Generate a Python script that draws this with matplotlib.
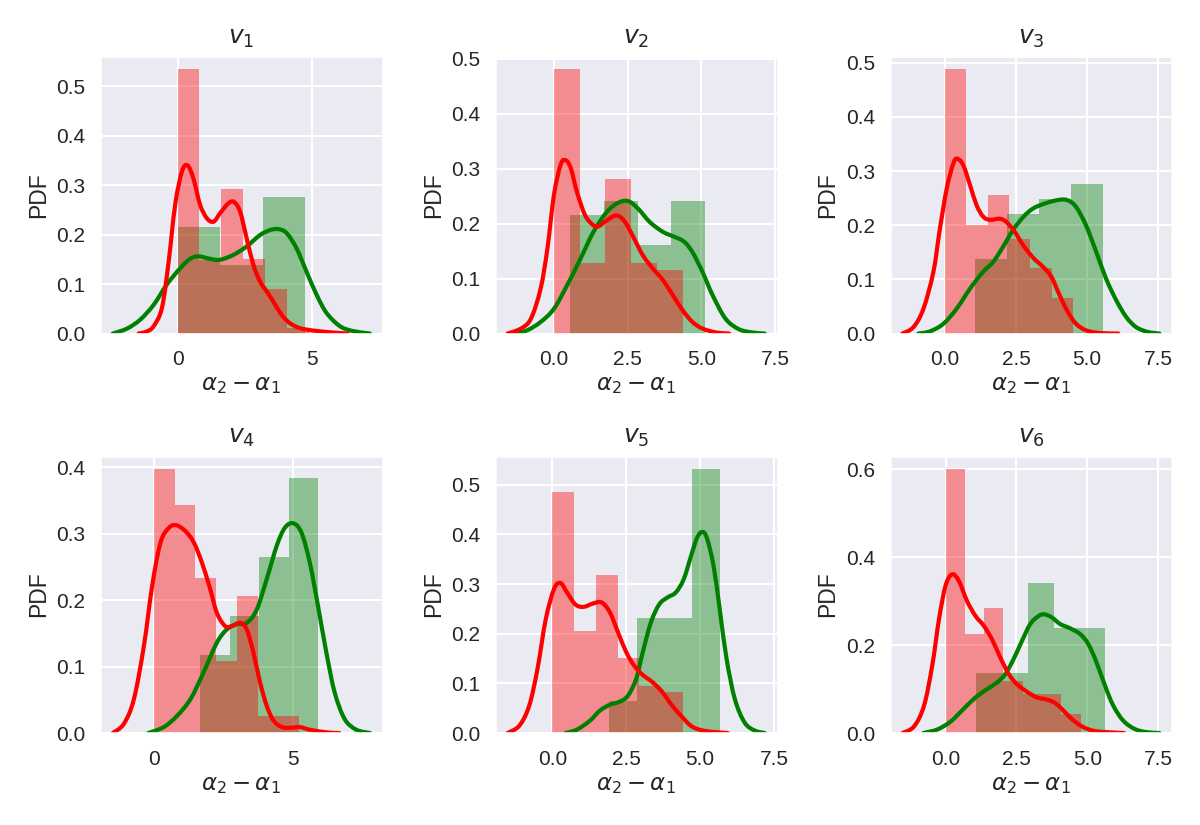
import matplotlib
matplotlib.use("Agg")
import matplotlib.pyplot as plt
import numpy as np
import seaborn as sns
from matplotlib.path import Path
from matplotlib.patches import PathPatch

titles = ["$v_1$", "$v_2$", "$v_3$", "$v_4$", "$v_5$", "$v_6$"]
x_label = r"$\alpha_2 - \alpha_1$"
y_label = "PDF"

red_edges = [
    [0, 0.813, 1.627, 2.44, 3.253, 4.067, 4.88],
    [0, 0.874, 1.748, 2.622, 3.496, 4.37],
    [0, 0.75, 1.5, 2.25, 3.0, 3.75, 4.5],
    [0, 0.749, 1.497, 2.246, 2.994, 3.743, 4.491, 5.24],
    [0, 0.737, 1.473, 2.21, 2.947, 3.683, 4.42],
    [0, 0.681, 1.363, 2.044, 2.726, 3.407, 4.089, 4.77],
]
red_heights = [
    [0.534, 0.148, 0.292, 0.151, 0.089, 0.011],
    [0.481, 0.128, 0.281, 0.128, 0.116],
    [0.488, 0.201, 0.256, 0.175, 0.121, 0.066],
    [0.398, 0.343, 0.233, 0.109, 0.206, 0.026, 0.026],
    [0.485, 0.206, 0.318, 0.151, 0.095, 0.082],
    [0.601, 0.225, 0.285, 0.119, 0.089, 0.089, 0.043],
]
green_edges = [
    [0, 1.583, 3.167, 4.75],
    [0.56, 1.6975, 2.835, 3.9725, 5.11],
    [1.05, 2.175, 3.3, 4.425, 5.55],
    [1.675, 2.736, 3.798, 4.859, 5.92],
    [1.93, 2.865, 3.8, 4.735, 5.67],
    [1.09, 2.0, 2.91, 3.82, 4.73, 5.64],
]
green_heights = [
    [0.216, 0.138, 0.275],
    [0.215, 0.242, 0.161, 0.242],
    [0.137, 0.22, 0.248, 0.276],
    [0.117, 0.176, 0.265, 0.384],
    [0.065, 0.231, 0.231, 0.532],
    [0.136, 0.136, 0.342, 0.24, 0.24],
]

red_kde_x = [
    [-1.45, -1.15, -0.89, -0.58, -0.33, -0.09, 0.16, 0.37, 0.59, 0.84, 1.09, 1.34, 1.58, 1.89, 2.10, 2.33, 2.57, 2.82, 3.07, 3.32, 3.56, 3.87, 4.18, 4.55, 5.05, 5.79, 6.33],
    [-1.57, -1.12, -0.78, -0.45, -0.22, 0, 0.22, 0.37, 0.56, 0.78, 1.06, 1.34, 1.51, 1.79, 2.13, 2.41, 2.69, 3.02, 3.36, 3.70, 4.03, 4.37, 4.70, 5.04, 5.49, 5.94],
    [-1.50, -1.11, -0.76, -0.41, -0.18, 0.06, 0.29, 0.43, 0.64, 0.88, 1.11, 1.34, 1.58, 1.93, 2.16, 2.45, 2.75, 3.10, 3.45, 3.74, 4.03, 4.32, 4.61, 4.96, 5.43, 6.1],
    [-1.48, -1.08, -0.72, -0.36, -0.06, 0.24, 0.54, 0.81, 1.14, 1.44, 1.73, 2.03, 2.27, 2.57, 2.81, 3.11, 3.35, 3.59, 3.83, 4.07, 4.31, 4.61, 4.96, 5.26, 5.62, 6.22, 6.69],
    [-1.51, -1.11, -0.78, -0.50, -0.22, 0.06, 0.28, 0.50, 0.78, 1.06, 1.39, 1.67, 1.95, 2.23, 2.51, 2.78, 3.06, 3.40, 3.73, 4.06, 4.40, 4.73, 5.18, 5.94],
    [-1.52, -1.11, -0.76, -0.47, -0.23, 0, 0.23, 0.47, 0.76, 1.06, 1.35, 1.64, 1.93, 2.23, 2.52, 2.87, 3.22, 3.58, 3.87, 4.16, 4.45, 4.81, 5.22, 5.69, 6.3],
]
red_kde_y = [
    [0, 0.004, 0.015, 0.052, 0.146, 0.26, 0.327, 0.34, 0.313, 0.26, 0.233, 0.226, 0.243, 0.263, 0.266, 0.246, 0.193, 0.139, 0.105, 0.085, 0.065, 0.038, 0.021, 0.011, 0.006, 0.002, 0],
    [0, 0.009, 0.027, 0.082, 0.155, 0.252, 0.306, 0.316, 0.303, 0.258, 0.215, 0.197, 0.195, 0.206, 0.215, 0.203, 0.176, 0.142, 0.118, 0.097, 0.07, 0.042, 0.021, 0.009, 0.002, 0],
    [0, 0.012, 0.046, 0.114, 0.194, 0.268, 0.314, 0.323, 0.311, 0.274, 0.237, 0.216, 0.21, 0.212, 0.206, 0.188, 0.163, 0.14, 0.123, 0.105, 0.071, 0.04, 0.018, 0.006, 0.001, 0],
    [0, 0.014, 0.051, 0.131, 0.222, 0.287, 0.309, 0.313, 0.304, 0.287, 0.257, 0.217, 0.181, 0.161, 0.161, 0.166, 0.156, 0.121, 0.076, 0.041, 0.019, 0.009, 0.008, 0.009, 0.005, 0.001, 0],
    [0, 0.015, 0.055, 0.129, 0.229, 0.29, 0.302, 0.283, 0.259, 0.254, 0.261, 0.263, 0.243, 0.202, 0.162, 0.135, 0.117, 0.102, 0.082, 0.055, 0.032, 0.013, 0.004, 0],
    [0, 0.015, 0.062, 0.153, 0.259, 0.335, 0.361, 0.346, 0.3, 0.266, 0.244, 0.213, 0.172, 0.134, 0.111, 0.094, 0.081, 0.076, 0.068, 0.051, 0.032, 0.015, 0.005, 0.002, 0],
]
green_kde_x = [
    [-2.41, -1.88, -1.39, -0.89, -0.40, 0.10, 0.47, 0.78, 1.21, 1.58, 2.08, 2.57, 3.07, 3.44, 3.75, 4.06, 4.43, 4.80, 5.17, 5.54, 6.04, 6.53, 7.16],
    [-1.3, -0.90, -0.45, 0, 0.45, 0.90, 1.34, 1.79, 2.18, 2.52, 2.86, 3.25, 3.70, 4.09, 4.42, 4.70, 5.04, 5.38, 5.82, 6.27, 6.72, 7.15],
    [-0.94, -0.53, -0.06, 0.41, 0.88, 1.34, 1.69, 2.04, 2.39, 2.75, 3.10, 3.56, 4.03, 4.32, 4.61, 4.96, 5.32, 5.67, 6.02, 6.37, 6.72, 7.13, 7.55],
    [-0.2, 0.36, 0.84, 1.32, 1.79, 2.27, 2.63, 2.99, 3.35, 3.71, 4.07, 4.43, 4.72, 5.02, 5.32, 5.62, 5.92, 6.22, 6.52, 6.88, 7.30, 7.79],
    [0.45, 0.84, 1.28, 1.61, 1.95, 2.28, 2.56, 2.84, 3.06, 3.34, 3.62, 3.90, 4.18, 4.45, 4.73, 4.90, 5.07, 5.23, 5.46, 5.68, 5.90, 6.18, 6.51, 6.85, 7.19],
    [-0.78, -0.29, 0.18, 0.64, 1.06, 1.47, 1.82, 2.11, 2.40, 2.70, 2.99, 3.28, 3.48, 3.75, 4.04, 4.40, 4.75, 5.04, 5.33, 5.63, 5.92, 6.27, 6.68, 7.09, 7.55],
]
green_kde_y = [
    [0, 0.01, 0.028, 0.058, 0.099, 0.132, 0.151, 0.156, 0.151, 0.149, 0.159, 0.176, 0.199, 0.209, 0.211, 0.203, 0.172, 0.125, 0.079, 0.042, 0.015, 0.005, 0],
    [0, 0.006, 0.021, 0.045, 0.088, 0.136, 0.185, 0.221, 0.238, 0.241, 0.227, 0.203, 0.185, 0.176, 0.167, 0.148, 0.112, 0.07, 0.027, 0.008, 0.002, 0],
    [0, 0.004, 0.018, 0.046, 0.083, 0.114, 0.132, 0.16, 0.191, 0.215, 0.231, 0.241, 0.247, 0.246, 0.234, 0.2, 0.151, 0.101, 0.062, 0.031, 0.012, 0.003, 0],
    [0, 0.009, 0.026, 0.051, 0.091, 0.136, 0.156, 0.164, 0.166, 0.186, 0.232, 0.282, 0.309, 0.316, 0.302, 0.257, 0.191, 0.121, 0.061, 0.021, 0.005, 0],
    [0, 0.007, 0.025, 0.045, 0.057, 0.063, 0.075, 0.109, 0.162, 0.223, 0.259, 0.273, 0.283, 0.31, 0.363, 0.393, 0.405, 0.393, 0.336, 0.243, 0.149, 0.068, 0.021, 0.005, 0],
    [0, 0.008, 0.026, 0.055, 0.081, 0.1, 0.115, 0.134, 0.168, 0.21, 0.248, 0.266, 0.27, 0.263, 0.248, 0.238, 0.225, 0.202, 0.16, 0.107, 0.062, 0.028, 0.009, 0.002, 0],
]

RED = "#FF0000"
GREEN = "#008000"


def smooth_path(xs, ys):
    """Cubic Bezier path passing through every read point (Catmull-Rom tangents)."""
    p = np.column_stack([xs, ys]).astype(float)
    ext = np.vstack([p[0], p, p[-1]])
    verts = [p[0]]
    codes = [Path.MOVETO]
    for i in range(len(p) - 1):
        p0, p1, p2, p3 = ext[i], ext[i + 1], ext[i + 2], ext[i + 3]
        verts += [p1 + (p2 - p0) / 6.0, p2 - (p3 - p1) / 6.0, p2]
        codes += [Path.CURVE4] * 3
    return Path(verts, codes)


sns.set_theme(style="darkgrid", color_codes=False)
plt.rcParams["font.family"] = ["Liberation Sans", "DejaVu Sans"]
plt.rcParams["mathtext.fontset"] = "dejavusans"

fig, axes = plt.subplots(2, 3, figsize=(8, 5.5), dpi=150)
fig.subplots_adjust(left=0.0833, right=0.977, top=0.932, bottom=0.1115,
                    wspace=0.396, hspace=0.44)

for i, ax in enumerate(axes.flat):
    ge = np.asarray(green_edges[i])
    ax.bar(ge[:-1], green_heights[i], width=np.diff(ge), align="edge",
           color=GREEN, alpha=0.4, linewidth=0)
    re = np.asarray(red_edges[i])
    ax.bar(re[:-1], red_heights[i], width=np.diff(re), align="edge",
           color=RED, alpha=0.4, linewidth=0)
    ax.add_patch(PathPatch(smooth_path(green_kde_x[i], green_kde_y[i]),
                           facecolor="none", edgecolor=GREEN, lw=2.0,
                           capstyle="round", joinstyle="round"))
    ax.add_patch(PathPatch(smooth_path(red_kde_x[i], red_kde_y[i]),
                           facecolor="none", edgecolor=RED, lw=2.0,
                           capstyle="round", joinstyle="round"))
    ax.autoscale_view()
    ax.set_ylim(bottom=0)
    ax.set_title(titles[i], fontsize=12)
    ax.set_xlabel(x_label, fontsize=11, labelpad=2)
    ax.set_ylabel(y_label, fontsize=11, labelpad=3)
    ax.tick_params(axis="x", labelsize=10, length=0, pad=8)
    ax.tick_params(axis="y", labelsize=10, length=0, pad=7)

fig.savefig("out.png", dpi=150)
